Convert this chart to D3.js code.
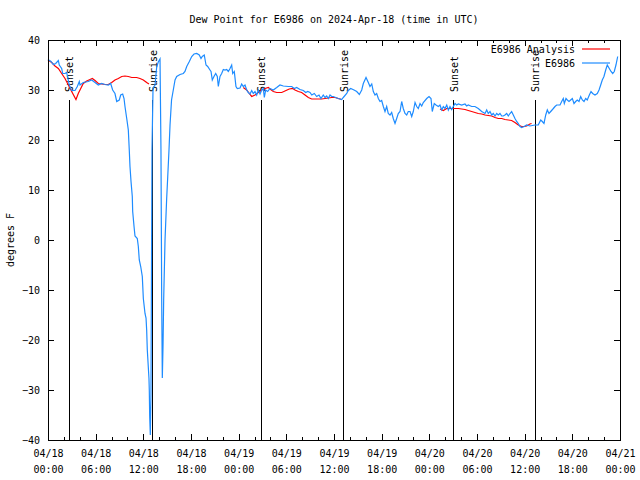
<!DOCTYPE html>
<html><head><meta charset="utf-8">
<script src="https://cdn.jsdelivr.net/npm/d3@7"></script>
<style>
body{margin:0;background:#fff;}
svg text{font-family:"DejaVu Sans Mono","Liberation Mono",monospace;font-size:10px;fill:#000;}
</style>
</head><body>
<svg id="c" width="640" height="480"></svg>
<script>
// ---- data (hours since 2024-04-18 00:00 UTC, dew point in °F) ----
const titleText = "Dew Point for E6986 on 2024-Apr-18 (time in UTC)";
const yLabel = "degrees F";
const seriesNames = ["E6986 Analysis", "E6986"];
const yTicks = [-40, -30, -20, -10, 0, 10, 20, 30, 40];
const xTickHours = [0, 6, 12, 18, 24, 30, 36, 42, 48, 54, 60, 66, 72];

const obsHours = [0,0.38,0.67,0.97,1.30,1.42,1.72,1.85,2.14,2.35,2.68,2.98,3.40,3.69,3.94,4.03,4.44,5.07,5.50,5.92,6.33,6.76,7.17,7.59,7.89,8.14,8.43,8.65,8.97,9.15,9.40,9.57,9.69,9.91,10.11,10.23,10.32,10.45,10.61,10.66,10.83,10.95,11.24,11.37,11.49,11.67,11.87,12.00,12.21,12.34,12.42,12.50,12.71,12.75,12.80,12.88,12.96,13.09,13.22,13.47,13.68,13.88,14.10,14.22,14.31,14.39,14.48,14.56,14.73,14.94,15.07,15.23,15.36,15.55,15.77,15.99,16.20,16.62,17.03,17.24,17.46,17.79,18.09,18.38,18.72,19.04,19.26,19.42,19.67,19.89,20.10,20.39,20.52,20.68,20.89,21.11,21.31,21.44,21.65,21.86,22.07,22.28,22.49,22.70,22.91,23.12,23.25,23.45,23.66,23.83,24.17,24.38,24.58,24.80,25.01,25.21,25.43,25.64,25.84,26.06,26.27,26.47,26.69,26.90,27.10,27.23,27.40,27.65,27.94,28.36,28.79,29.20,29.62,30.25,30.68,31.00,31.30,31.72,32.14,32.44,32.69,32.98,33.20,33.52,33.82,34.11,34.36,34.65,34.87,35.08,35.28,35.50,35.71,35.91,36.54,36.97,37.17,37.60,37.80,38.10,38.52,38.86,39.19,39.49,39.69,40.03,40.32,40.53,40.75,40.95,41.16,41.37,41.58,41.79,42.00,42.21,42.42,42.63,42.83,43.05,43.26,43.46,43.68,43.89,44.09,44.31,44.52,44.72,44.94,45.15,45.35,45.57,45.78,45.98,46.20,46.41,46.61,46.83,47.04,47.24,47.67,47.96,48.21,48.37,48.62,48.84,49.13,49.34,49.56,49.76,49.97,50.19,50.39,50.60,50.81,51.02,51.23,51.44,51.65,52.07,52.49,52.70,52.90,53.33,53.74,54.16,54.59,55.01,55.22,55.42,55.64,55.85,56.05,56.27,56.48,56.68,56.89,57.11,57.31,57.52,57.74,57.94,58.15,58.36,58.57,58.78,58.99,59.20,59.41,59.62,59.95,60.25,60.66,61.29,61.71,62.02,62.22,62.43,62.65,62.85,63.06,63.28,63.61,63.82,64.03,64.45,64.66,64.86,64.99,65.20,65.37,65.58,65.79,66.00,66.21,66.42,66.62,66.84,67.05,67.26,67.47,67.68,67.88,68.14,68.35,68.56,68.85,69.14,69.36,69.57,69.77,69.98,70.20,70.40,70.65,70.87,71.08,71.28,71.49,71.71];
const obsValues = [36.1,35.7,35.1,35.3,35.9,35.0,34.3,33.3,33.3,33.5,31.0,29.9,29.9,30.7,31.7,31.0,31.5,31.7,32.0,31.5,31.0,31.3,31.1,31.0,31.3,30.0,29.3,27.7,28.0,29.0,29.2,28.3,26.7,24.3,22.0,18.0,14.7,11.7,8.7,5.7,2.7,0.8,0.3,-1.3,-4.0,-5.3,-7.3,-11.7,-14.7,-15.6,-18.0,-22.0,-27.7,-30.0,-35.3,-39.0,-31.0,18.0,30.4,31.0,34.6,35.6,36.2,18.0,-11.6,-27.6,-21.0,-12.0,0,8.4,12.6,18.0,23.0,28.0,30.0,32.0,32.7,33.1,33.3,33.7,34.7,35.7,36.7,37.2,37.3,37.0,36.3,36.7,37.0,35.0,34.7,34.0,33.7,32.0,32.7,33.3,32.7,30.7,32.7,33.3,34.1,34.0,34.1,33.7,34.3,35.0,33.3,33.7,30.7,30.3,30.4,31.2,30.7,31.0,30.0,29.5,29.2,29.9,29.3,29.7,29.0,30.0,29.2,30.0,30.3,28.5,30.0,29.7,30.3,30.0,30.5,31.0,30.8,30.7,30.7,30.3,30.5,30.1,29.9,29.5,29.7,29.5,29.0,29.3,28.7,29.0,28.3,29.0,28.5,28.8,28.3,29.0,28.7,28.7,28.3,28.1,28.5,29.3,29.9,30.3,30.0,29.7,29.1,30.0,31.3,32.5,31.5,30.7,31.2,29.7,29.0,29.3,28.3,27.7,27.9,26.7,25.7,26.7,25.3,25.0,25.5,24.3,23.3,24.3,25.3,25.7,27.7,26.3,25.3,25.0,25.7,25.7,24.7,25.7,27.5,26.7,26.3,27.3,26.8,27.5,28.3,28.7,28.3,25.7,27.3,27.0,26.7,27.0,26.0,26.7,26.3,27.0,26.0,26.7,26.1,26.7,27.3,27.0,27.2,27.0,27.2,26.8,27.0,26.7,26.7,26.3,25.7,25.3,26.0,25.3,25.7,25.0,25.3,24.8,25.3,25.0,25.3,24.8,24.8,25.0,25.3,24.8,25.3,25.7,25.0,24.3,23.7,23.3,22.7,22.5,22.7,23.0,22.8,23.0,23.0,24.0,23.7,23.3,25.0,26.0,25.3,25.7,26.3,26.7,27.0,27.0,27.7,28.3,27.3,28.3,28.0,27.7,28.0,28.3,27.3,27.7,28.0,27.7,28.7,28.0,27.7,28.3,28.0,29.0,29.7,29.3,29.0,29.3,30.0,31.0,32.0,32.7,34.0,35.0,34.3,33.7,33.3,33.7,35.0,36.7];

// analysis: null separates the gaps
const anaHours = [0,0.47,0.88,1.30,1.72,2.14,2.56,2.98,3.52,3.81,4.12,4.44,4.87,5.29,5.58,5.92,6.33,6.76,7.17,7.59,8.02,8.43,8.85,9.28,9.69,10.11,10.54,11.16,11.58,12.00,12.42,12.71,null,
  24.58,25.01,25.43,25.64,26.06,26.47,26.90,27.32,27.73,28.03,28.36,28.79,29.42,29.96,30.37,30.80,31.09,31.51,31.93,32.35,32.77,33.19,33.61,34.45,34.87,35.71,36.13,36.54,36.97,null,
  49.34,49.76,50.19,50.81,51.65,52.07,52.49,52.90,53.33,53.74,54.16,54.59,55.01,55.42,55.85,56.27,56.68,57.11,57.52,57.94,58.36,58.78,59.20,59.62,59.95,60.25,60.66,60.87];
const anaValues = [36.0,35.5,34.8,34.3,33.3,32.3,31.0,29.7,28.1,29.3,30.3,31.3,31.8,32.1,32.3,31.9,31.3,31.2,31.1,31.1,31.5,32.0,32.3,32.7,32.8,32.7,32.5,32.5,32.3,32.0,31.5,31.2,null,
  30.5,30.0,29.1,28.7,29.0,29.5,30.0,30.3,30.5,30.1,29.7,29.5,29.5,29.9,30.2,30.3,30.0,29.7,29.5,29.0,28.5,28.2,28.2,28.2,28.3,28.5,28.5,28.3,28.1,null,
  26.2,25.9,26.3,26.3,26.3,26.2,26.1,25.9,25.7,25.5,25.3,25.2,25.0,24.9,24.8,24.5,24.3,24.3,24.1,24.0,23.9,23.5,23.0,22.7,22.7,22.8,23.2,23.3];

const sunLabels = ["Sunset", "Sunrise", "Sunset", "Sunrise", "Sunset", "Sunrise"];
const sunHours = [2.66, 13.18, 26.85, 37.2, 51.1, 61.35];

// ---- drawing ----
const base = Date.UTC(2024, 3, 18, 0, 0);
const toDate = h => new Date(base + h * 3600e3);
const svg = d3.select("#c");
const L = 48, R = 620, T = 40, B = 440;
const x = d3.scaleUtc().domain([toDate(0), toDate(72)]).range([L, R]);
const y = d3.scaleLinear().domain([-40, 40]).range([B, T]);
const red = "#ff0000", blue = "#1e8cff";

svg.append("rect").attr("width", 640).attr("height", 480).attr("fill", "#fff");

// title
svg.append("text").attr("x", (L + R) / 2).attr("y", 23).attr("text-anchor", "middle").text(titleText);
// y label
svg.append("text").attr("transform", "translate(14,240) rotate(-90)").attr("text-anchor", "middle").text(yLabel);

// axes
const fmtD = d3.utcFormat("%m/%d"), fmtT = d3.utcFormat("%H:%M");
const xTicks = xTickHours.map(toDate);
const minorTicks = d3.range(0, 73, 2).filter(h => h % 6 !== 0).map(toDate);

const gx = svg.append("g").attr("transform", `translate(0,${B})`)
  .call(d3.axisBottom(x).tickValues(xTicks).tickSize(-6).tickPadding(10).tickFormat(""));
gx.select(".domain").remove();
gx.selectAll(".tick line").attr("stroke", "#000").attr("shape-rendering", "crispEdges");
gx.selectAll(".tick").each(function (d) {
  const t = d3.select(this).append("text").attr("text-anchor", "middle").attr("fill", "#000");
  t.append("tspan").attr("x", 0).attr("y", 17).text(fmtD(d));
  t.append("tspan").attr("x", 0).attr("y", 33).text(fmtT(d));
});
const gxm = svg.append("g").attr("transform", `translate(0,${B})`)
  .call(d3.axisBottom(x).tickValues(minorTicks).tickSize(-3).tickFormat(""));
gxm.select(".domain").remove();
gxm.selectAll("line").attr("stroke", "#000").attr("shape-rendering", "crispEdges");

const gxt = svg.append("g").attr("transform", `translate(0,${T})`)
  .call(d3.axisTop(x).tickValues(xTicks).tickSize(-6).tickFormat(""));
gxt.select(".domain").remove();
gxt.selectAll("line").attr("stroke", "#000").attr("shape-rendering", "crispEdges");
const gxtm = svg.append("g").attr("transform", `translate(0,${T})`)
  .call(d3.axisTop(x).tickValues(minorTicks).tickSize(-3).tickFormat(""));
gxtm.select(".domain").remove();
gxtm.selectAll("line").attr("stroke", "#000").attr("shape-rendering", "crispEdges");

const gy = svg.append("g").attr("transform", `translate(${L},0)`)
  .call(d3.axisLeft(y).tickValues(yTicks).tickSize(-6).tickPadding(8));
gy.select(".domain").remove();
gy.selectAll("line").attr("stroke", "#000").attr("shape-rendering", "crispEdges");
gy.selectAll("text").attr("font-family", null).attr("font-size", null).attr("dy", "0.35em");
gy.attr("font-family", null).attr("font-size", null);
gx.attr("font-family", null).attr("font-size", null);

const gyr = svg.append("g").attr("transform", `translate(${R},0)`)
  .call(d3.axisRight(y).tickValues(yTicks).tickSize(-6).tickFormat(""));
gyr.select(".domain").remove();
gyr.selectAll("line").attr("stroke", "#000").attr("shape-rendering", "crispEdges");

// sunrise / sunset markers
const sun = svg.append("g");
sunHours.forEach((h, i) => {
  const px = x(toDate(h));
  sun.append("line").attr("x1", px).attr("x2", px).attr("y1", y(28)).attr("y2", y(-40))
    .attr("stroke", "#000").attr("stroke-width", 1).attr("shape-rendering", "crispEdges");
  sun.append("text").attr("transform", `translate(${px + 4},92) rotate(-90)`).text(sunLabels[i]);
});

// series
const anaData = anaHours.map((h, i) => ({ h, v: anaValues[i] }));
const obsData = obsHours.map((h, i) => ({ h, v: obsValues[i] }));
const line = d3.line().defined(d => d.h !== null && d.v !== null)
  .x(d => x(toDate(d.h))).y(d => y(d.v));

svg.append("path").datum(anaData).attr("d", line).attr("fill", "none").attr("stroke", red).attr("stroke-width", 1.2);
svg.append("path").datum(obsData).attr("d", line).attr("fill", "none").attr("stroke", blue).attr("stroke-width", 1.2);

// legend
const legColors = [red, blue];
seriesNames.forEach((n, i) => {
  const ly = 49 + i * 14;
  svg.append("text").attr("x", 575).attr("y", ly).attr("dy", "0.35em").attr("text-anchor", "end").text(n);
  svg.append("line").attr("x1", 582).attr("x2", 610).attr("y1", ly).attr("y2", ly)
    .attr("stroke", legColors[i]).attr("stroke-width", 1.2);
});

// frame
svg.append("rect").attr("x", L).attr("y", T).attr("width", R - L).attr("height", B - T)
  .attr("fill", "none").attr("stroke", "#000").attr("shape-rendering", "crispEdges");
</script>
</body></html>
